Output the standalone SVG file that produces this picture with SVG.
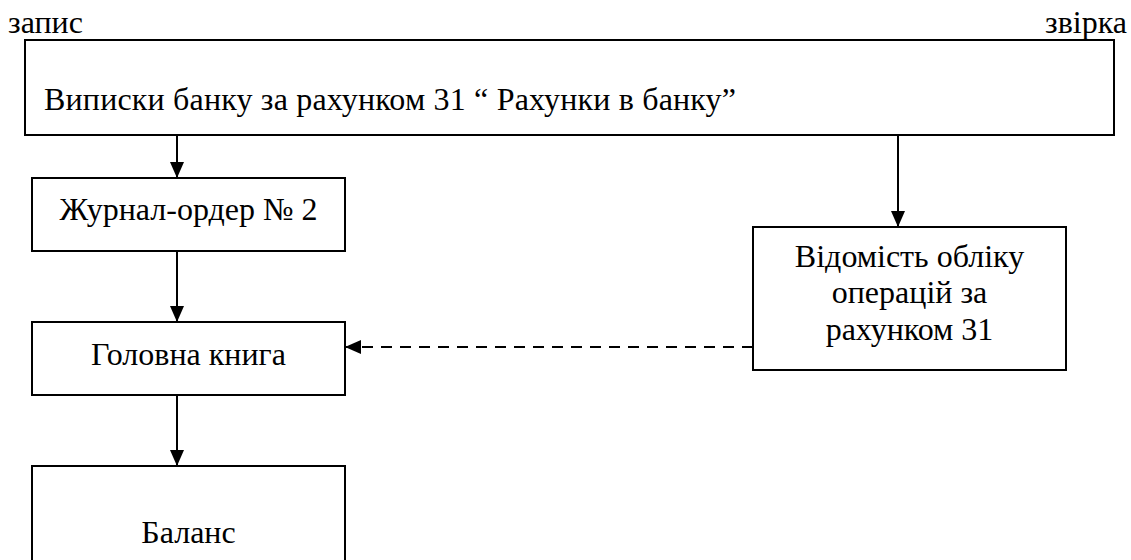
<svg xmlns="http://www.w3.org/2000/svg" width="1131" height="560" viewBox="0 0 1131 560">
  <style>
    .box { fill: #fff; stroke: #000; stroke-width: 2; }
    .lbl { font-family: "Liberation Serif", "Times New Roman", serif; font-size: 32px; fill: #000; }
    .mid { text-anchor: middle; }
    .conn { stroke: #000; stroke-width: 2; fill: none; }
    .dash { stroke-dasharray: 11 8; }
  </style>
  <defs>
    <marker id="arrow" viewBox="0 0 16 14" refX="16" refY="7" markerWidth="16" markerHeight="14" markerUnits="userSpaceOnUse" orient="auto">
      <path d="M0,0 L16,7 L0,14 Z" fill="#000"/>
    </marker>
  </defs>

  <text class="lbl" x="8" y="33">запис</text>
  <text class="lbl" x="1127" y="33" text-anchor="end">звірка</text>

  <g id="bank-statements">
    <rect class="box" x="25" y="40" width="1089" height="95"/>
    <text class="lbl" x="44" y="110" textLength="692" lengthAdjust="spacing">Виписки банку за рахунком 31 “ Рахунки в банку”</text>
  </g>

  <g id="journal-order">
    <rect class="box" x="32" y="178" width="313" height="73"/>
    <text class="lbl mid" x="188.5" y="220">Журнал-ордер № 2</text>
  </g>

  <g id="account-register">
    <rect class="box" x="753" y="227" width="313" height="143"/>
    <text class="lbl mid" x="909.5" y="267">Відомість обліку</text>
    <text class="lbl mid" x="909.5" y="303">операцій за</text>
    <text class="lbl mid" x="909.5" y="340">рахунком 31</text>
  </g>

  <g id="general-ledger">
    <rect class="box" x="32" y="322" width="313" height="73"/>
    <text class="lbl mid" x="188.5" y="365">Головна книга</text>
  </g>

  <g id="balance">
    <rect class="box" x="32" y="466" width="313" height="110"/>
    <text class="lbl mid" x="188.5" y="543">Баланс</text>
  </g>

  <g id="connectors">
    <line class="conn" x1="177" y1="135" x2="177" y2="178" marker-end="url(#arrow)"/>
    <line class="conn" x1="898" y1="135" x2="898" y2="227" marker-end="url(#arrow)"/>
    <line class="conn" x1="177" y1="251" x2="177" y2="322" marker-end="url(#arrow)"/>
    <line class="conn dash" x1="753" y1="347" x2="345" y2="347" marker-end="url(#arrow)"/>
    <line class="conn" x1="177" y1="395" x2="177" y2="466" marker-end="url(#arrow)"/>
  </g>
</svg>
